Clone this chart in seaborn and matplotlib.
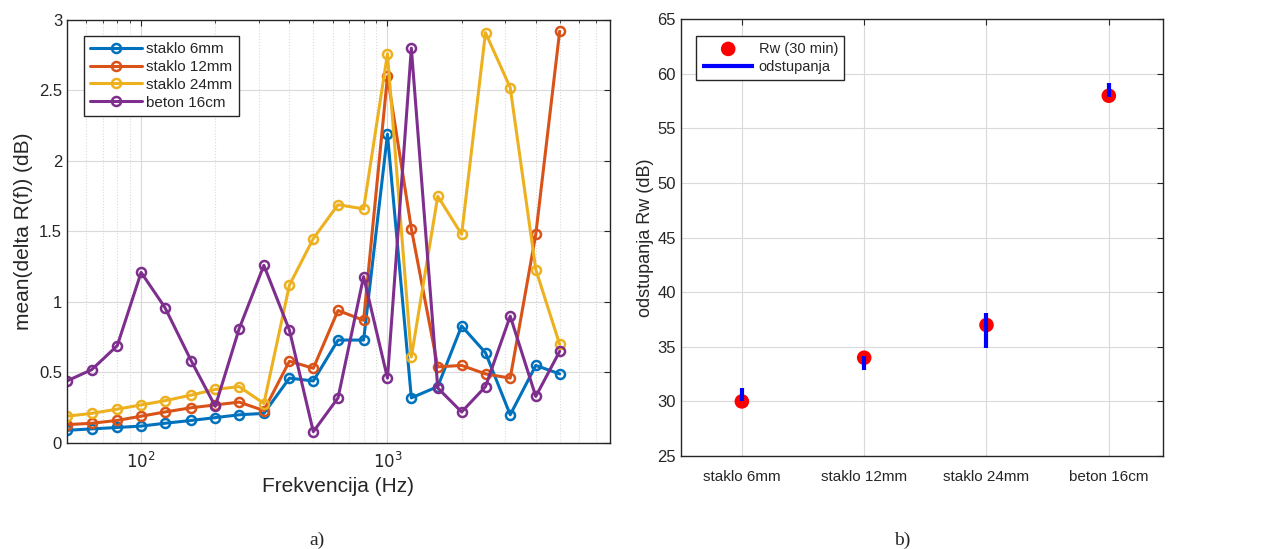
import pandas as pd
import matplotlib
matplotlib.use("Agg")
import matplotlib.pyplot as plt
import seaborn as sns
from matplotlib.ticker import LogLocator, NullFormatter, FixedLocator

# a) mean(delta R(f)) po tercnim pojasevima
freq = [50, 63, 80, 100, 125, 160, 200, 250, 315, 400, 500,
        630, 800, 1000, 1250, 1600, 2000, 2500, 3150, 4000, 5000]

staklo_6mm = [0.09, 0.10, 0.11, 0.12, 0.14, 0.16, 0.18, 0.20, 0.21, 0.46, 0.44,
              0.73, 0.73, 2.19, 0.32, 0.40, 0.83, 0.64, 0.20, 0.55, 0.49]
staklo_12mm = [0.13, 0.14, 0.16, 0.19, 0.22, 0.25, 0.27, 0.29, 0.23, 0.58, 0.53,
               0.94, 0.87, 2.60, 1.52, 0.54, 0.55, 0.49, 0.46, 1.48, 2.92]
staklo_24mm = [0.19, 0.21, 0.24, 0.27, 0.30, 0.34, 0.38, 0.40, 0.28, 1.12, 1.45,
               1.69, 1.66, 2.76, 0.61, 1.75, 1.48, 2.91, 2.52, 1.23, 0.70]
beton_16cm = [0.44, 0.52, 0.69, 1.21, 0.96, 0.58, 0.26, 0.81, 1.26, 0.80, 0.08,
              0.32, 1.18, 0.46, 2.80, 0.39, 0.22, 0.40, 0.90, 0.33, 0.65]

series_names = ["staklo 6mm", "staklo 12mm", "staklo 24mm", "beton 16cm"]
series_colors = ["#0072BD", "#D95319", "#EDB120", "#7E2F8E"]

# b) Rw i odstupanja
materials = ["staklo 6mm", "staklo 12mm", "staklo 24mm", "beton 16cm"]
rw_30min = [30, 34, 37, 58]
odst_low = [30.0, 32.9, 34.9, 57.9]
odst_high = [31.2, 34.2, 38.1, 59.2]

sns.set_style("white")
plt.rcParams["font.family"] = ["Liberation Sans", "DejaVu Sans"]
plt.rcParams["axes.linewidth"] = 1.0

txt = "#262626"
grid_c = "#DADADA"

fig = plt.figure(figsize=(12.61, 5.49), dpi=100)
ax1 = fig.add_axes([0.0531, 0.1931, 0.4306, 0.7705])
ax2 = fig.add_axes([0.5398, 0.1694, 0.3822, 0.7954])

# ---- a) ----
all_vals = [staklo_6mm, staklo_12mm, staklo_24mm, beton_16cm]
for name, vals, col in zip(series_names, all_vals, series_colors):
    sns.lineplot(x=freq, y=vals, ax=ax1, color=col, lw=2.2,
                 marker="o", ms=6.5, mfc="none", mec=col, mew=1.8,
                 label=name)

ax1.set_xscale("log")
ax1.set_xlim(50, 8000)
ax1.set_ylim(0, 3)
ax1.xaxis.set_major_locator(FixedLocator([100, 1000]))
ax1.xaxis.set_minor_locator(LogLocator(base=10, subs=range(2, 10)))
ax1.xaxis.set_minor_formatter(NullFormatter())
ax1.set_xticklabels([r"$10^2$", r"$10^3$"])
ax1.set_yticks([0, 0.5, 1, 1.5, 2, 2.5, 3])
ax1.set_yticklabels(["0", "0.5", "1", "1.5", "2", "2.5", "3"])
ax1.grid(True, which="major", color=grid_c, lw=0.8)
ax1.grid(True, which="minor", axis="x", color=grid_c, lw=0.8, ls=":")
ax1.tick_params(which="both", direction="in", top=True, right=True,
                labelsize=12, colors=txt, length=4)
ax1.tick_params(which="minor", length=2)
ax1.tick_params(axis="x", pad=6)
ax1.set_xlabel("Frekvencija (Hz)", fontsize=15, color=txt, labelpad=4)
ax1.set_ylabel("mean(delta R(f)) (dB)", fontsize=15, color=txt, labelpad=4)
for s in ax1.spines.values():
    s.set_color(txt)
leg1 = ax1.legend(loc="upper left", bbox_to_anchor=(0.031, 0.962),
                  borderaxespad=0, fontsize=11, handlelength=3.4,
                  fancybox=False, edgecolor=txt, framealpha=1,
                  labelspacing=0.25, borderpad=0.4, handletextpad=0.3)
leg1.get_frame().set_linewidth(1.0)

# ---- b) ----
xpos = list(range(len(materials)))
sns.scatterplot(x=xpos, y=rw_30min, ax=ax2, color="#FF0000", s=110,
                edgecolor="none", label="Rw (30 min)", zorder=3)
ax2.vlines(xpos, odst_low, odst_high, colors="#0000FF", lw=3,
           label="odstupanja", zorder=4)
ax2.set_xlim(-0.5, 3.44)
ax2.set_ylim(25, 65)
ax2.set_xticks(xpos)
ax2.set_xticklabels(materials)
ax2.set_yticks(range(25, 66, 5))
ax2.grid(True, color=grid_c, lw=0.8)
ax2.tick_params(direction="in", top=True, right=True, labelsize=12,
                colors=txt, length=4)
ax2.tick_params(axis="x", labelsize=11, pad=10)
ax2.set_ylabel("odstupanja Rw (dB)", fontsize=13, color=txt, labelpad=2)
for s in ax2.spines.values():
    s.set_color(txt)
leg2 = ax2.legend(loc="upper left", bbox_to_anchor=(0.032, 0.962),
                  borderaxespad=0, fontsize=10.5, handlelength=3.6,
                  fancybox=False, edgecolor=txt, framealpha=1,
                  labelspacing=0.3, borderpad=0.4, handletextpad=0.3)
leg2.get_frame().set_linewidth(1.0)

fig.text(0.2514, 0.008, "a)", fontsize=14, family="Liberation Serif", ha="center")
fig.text(0.7153, 0.008, "b)", fontsize=14, family="Liberation Serif", ha="center")

fig.savefig("out.png", dpi=100)
